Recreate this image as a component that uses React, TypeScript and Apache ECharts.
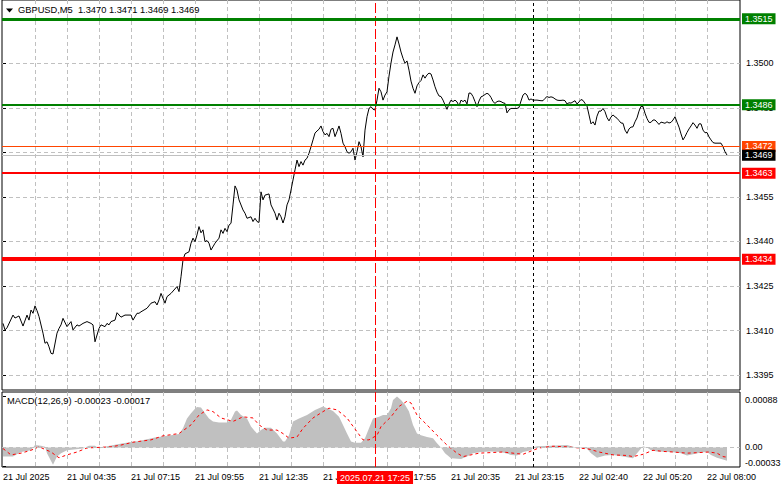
import React, { useEffect, useRef } from "react";
import * as echarts from "echarts";

// ---------- data ----------
const symbolName = "GBPUSD,M5";
const ohlc = [1.347, 1.3471, 1.3469, 1.3469];
const macdParams = [12, 26, 9];
const macdCurrent = [-0.00023, -0.00017];

const timeLabelBars = [0, 32, 64, 96, 128, 160, 192, 224, 256, 288, 320, 352];
const timeLabels = [
  "21 Jul 2025", "21 Jul 04:35", "21 Jul 07:15", "21 Jul 09:55", "21 Jul 12:35", "21 Jul 15:15",
  "21 Jul 17:55", "21 Jul 20:35", "21 Jul 23:15", "22 Jul 02:40", "22 Jul 05:20", "22 Jul 08:00",
];
const gridBars = [16, 32, 48, 64, 80, 96, 112, 128, 144, 160, 176, 192, 208, 224, 240, 256, 272, 288, 304, 320, 336, 352];
const priceTicks = [1.3395, 1.341, 1.3425, 1.344, 1.3455, 1.347, 1.3485, 1.35, 1.3515];
const priceLabels = [1.3395, 1.341, 1.3425, 1.344, 1.3455, 1.3485, 1.35];
const macdTicks = [-0.00033, 0, 0.00088];

const levelPrices = [1.3515, 1.3486, 1.3472, 1.3463, 1.3434];
const bidPrice = 1.3469;
const markerBar = 186;
const markerLabel = "2025.07.21 17:25";
const daySeparatorBar = 265;

// [bar index, close]
const closes: [number, number][] = [
  [0, 1.34124], [1, 1.34102], [2, 1.34109], [5, 1.34152], [6, 1.34142], [8, 1.34149], [10, 1.34115],
  [12, 1.34152], [13, 1.34135], [14, 1.34169], [15, 1.34158], [16, 1.34183], [17, 1.34167], [18, 1.34147],
  [20, 1.34091], [21, 1.34057], [22, 1.34062], [23, 1.34045], [24, 1.34023], [25, 1.34021], [27, 1.34091],
  [28, 1.34107], [29, 1.34119], [30, 1.34141], [32, 1.34113], [34, 1.3413], [35, 1.34102], [37, 1.34119],
  [38, 1.34115], [40, 1.34124], [42, 1.3413], [44, 1.34124], [45, 1.34119], [46, 1.34062], [48, 1.34107],
  [49, 1.34119], [51, 1.34113], [52, 1.34124], [53, 1.34119], [54, 1.3413], [56, 1.34135], [57, 1.3416],
  [59, 1.34145], [61, 1.34152], [64, 1.34152], [65, 1.34135], [67, 1.34158], [68, 1.34158], [69, 1.34163],
  [72, 1.34175], [74, 1.34192], [76, 1.34197], [77, 1.34186], [78, 1.34203], [79, 1.34225], [81, 1.34192],
  [82, 1.34214], [84, 1.34225], [87, 1.34248], [88, 1.34231], [89, 1.34281], [90, 1.34338], [91, 1.34358],
  [93, 1.34365], [94, 1.34394], [95, 1.34411], [96, 1.34399], [97, 1.34422], [98, 1.3445], [99, 1.34429],
  [100, 1.34439], [101, 1.34399], [102, 1.34403], [103, 1.34394], [104, 1.34371], [106, 1.34394],
  [108, 1.34411], [109, 1.34439], [110, 1.34427], [111, 1.34444], [112, 1.34433], [113, 1.34455],
  [114, 1.34461], [115, 1.34523], [116, 1.34587], [117, 1.34573], [118, 1.3454], [120, 1.34506],
  [121, 1.34495], [122, 1.34478], [124, 1.34483], [125, 1.34467], [126, 1.34478], [127, 1.34467],
  [128, 1.34464], [129, 1.34567], [130, 1.3454], [131, 1.34556], [133, 1.3456], [134, 1.34523],
  [136, 1.34495], [137, 1.34472], [138, 1.34495], [139, 1.34483], [140, 1.34462], [141, 1.34483],
  [142, 1.34523], [143, 1.3454], [144, 1.34573], [145, 1.34607], [146, 1.34641], [147, 1.34674],
  [148, 1.34652], [149, 1.34669], [150, 1.34657], [151, 1.34674], [152, 1.3468], [153, 1.34697],
  [154, 1.34719], [155, 1.34742], [156, 1.34765], [157, 1.34772], [158, 1.34778], [159, 1.34789],
  [160, 1.3477], [161, 1.34759], [162, 1.34764], [163, 1.34753], [164, 1.34778], [165, 1.34781],
  [166, 1.34753], [167, 1.3477], [168, 1.34789], [169, 1.34764], [170, 1.34731], [171, 1.34719],
  [172, 1.34702], [173, 1.34697], [174, 1.34702], [175, 1.34714], [176, 1.34674], [177, 1.34702],
  [178, 1.34736], [179, 1.34719], [180, 1.34685], [181, 1.34775], [182, 1.3482], [183, 1.34848],
  [184, 1.34854], [185, 1.34845], [186, 1.34843], [187, 1.34876], [188, 1.34916], [189, 1.34904],
  [190, 1.34876], [191, 1.34893], [192, 1.34904], [193, 1.34957], [194, 1.35001], [195, 1.35038],
  [196, 1.35062], [197, 1.35089], [198, 1.35065], [199, 1.35038], [200, 1.35017], [201, 1.35],
  [202, 1.35008], [203, 1.34977], [204, 1.3494], [205, 1.34916], [206, 1.34899], [207, 1.34924],
  [208, 1.34935], [209, 1.34942], [210, 1.34961], [211, 1.3495], [212, 1.34961], [213, 1.34967],
  [214, 1.34964], [215, 1.34944], [216, 1.34921], [217, 1.34903], [218, 1.3489], [219, 1.34888],
  [220, 1.34876], [221, 1.3486], [222, 1.34845], [223, 1.34863], [224, 1.34876], [225, 1.34871],
  [226, 1.34876], [227, 1.3487], [228, 1.34856], [229, 1.34876], [230, 1.34871], [231, 1.34876],
  [232, 1.34863], [233, 1.349], [234, 1.34899], [235, 1.34888], [236, 1.34871], [237, 1.34854],
  [238, 1.34873], [239, 1.34887], [240, 1.3489], [241, 1.34895], [242, 1.34899], [243, 1.34895],
  [244, 1.34885], [245, 1.34871], [246, 1.34865], [247, 1.34871], [248, 1.34873], [249, 1.34871],
  [250, 1.34867], [251, 1.34865], [252, 1.34833], [253, 1.34843], [254, 1.34848], [255, 1.34848],
  [256, 1.34848], [257, 1.34848], [258, 1.34851], [259, 1.34873], [260, 1.34893], [261, 1.34899],
  [262, 1.34893], [263, 1.34876], [264, 1.3488], [265, 1.34876], [266, 1.34876], [267, 1.34876],
  [268, 1.34875], [269, 1.34874], [270, 1.34874], [271, 1.34882], [272, 1.34888], [273, 1.34885],
  [274, 1.34887], [275, 1.34885], [276, 1.3488], [277, 1.34876], [278, 1.34875], [279, 1.34875],
  [280, 1.34876], [281, 1.34874], [282, 1.34863], [283, 1.34867], [284, 1.34866], [285, 1.3487],
  [286, 1.34874], [287, 1.34863], [288, 1.3487], [289, 1.34878], [290, 1.34875], [291, 1.34865],
  [292, 1.34856], [293, 1.34826], [294, 1.34796], [295, 1.34803], [296, 1.34792], [297, 1.34822],
  [298, 1.34839], [299, 1.34839], [300, 1.34848], [301, 1.34837], [302, 1.34817], [303, 1.34806],
  [304, 1.34819], [305, 1.34826], [306, 1.3482], [307, 1.34815], [308, 1.34807], [309, 1.34799],
  [310, 1.34798], [311, 1.34775], [312, 1.34764], [313, 1.34779], [314, 1.34785], [315, 1.34786],
  [316, 1.34803], [317, 1.34816], [318, 1.34839], [319, 1.34855], [320, 1.34854], [321, 1.34832],
  [322, 1.34814], [323, 1.34801], [324, 1.34801], [325, 1.34809], [326, 1.34809], [327, 1.34802],
  [328, 1.34794], [329, 1.34802], [330, 1.348], [331, 1.34798], [332, 1.34803], [333, 1.34799],
  [334, 1.34801], [335, 1.34809], [336, 1.3482], [337, 1.34802], [338, 1.34785], [339, 1.34762],
  [340, 1.34742], [341, 1.34753], [342, 1.34767], [343, 1.34779], [344, 1.34789], [345, 1.348],
  [346, 1.34792], [347, 1.34781], [348, 1.34796], [349, 1.34796], [350, 1.34775], [351, 1.34766],
  [352, 1.34767], [353, 1.34752], [354, 1.34742], [355, 1.34733], [356, 1.34731], [357, 1.34731],
  [358, 1.34731], [359, 1.34731], [360, 1.34719], [361, 1.34702], [362, 1.34691],
];

// [bar index, MACD histogram]
const macdHist: [number, number][] = [
  [0, -0.00016], [5, -0.00016], [9, -0.00008], [14, -0.00005], [16, 0.00004], [19, 0.00003], [21, 0.00001],
  [22, -0.0001], [25, -0.0003], [27, -0.00016], [29, -0.0001], [32, -0.00005], [40, -0.00002], [43, 0.00003],
  [46, 0.00003], [48, -0.00002], [52, 0.00002], [60, 0.00007], [68, 0.00011], [76, 0.00017], [84, 0.00021],
  [88, 0.00023], [90, 0.00033], [92, 0.0005], [94, 0.00059], [96, 0.00067], [97, 0.0007], [99, 0.00069],
  [101, 0.00059], [103, 0.0005], [105, 0.00045], [108, 0.00043], [112, 0.00043], [114, 0.00048],
  [116, 0.00062], [117, 0.00064], [119, 0.00056], [122, 0.0005], [124, 0.00036], [127, 0.00024],
  [129, 0.0003], [131, 0.00034], [134, 0.00034], [137, 0.00024], [140, 0.0001], [141, 0.0001],
  [143, 0.00021], [145, 0.00045], [148, 0.0005], [152, 0.00056], [156, 0.00065], [160, 0.00071],
  [162, 0.00068], [165, 0.00063], [168, 0.00053], [170, 0.00039], [172, 0.00024], [174, 0.0001],
  [176, 0.00008], [179, 0.00008], [181, 0.00016], [183, 0.00033], [185, 0.0005], [188, 0.00053],
  [190, 0.00056], [192, 0.00056], [194, 0.00068], [195, 0.00082], [197, 0.00088], [199, 0.00082],
  [201, 0.00074], [203, 0.00062], [205, 0.00039], [207, 0.00024], [209, 0.00021], [212, 0.00018],
  [215, 0.00016], [217, 0.00007], [219, 0], [221, -0.0001], [224, -0.00019], [229, -0.0002],
  [232, -0.00016], [235, -0.0001], [239, -0.00008], [244, -0.00007], [249, -0.00008], [254, -0.00013],
  [257, -0.00014], [260, -0.00008], [264, -0.00005], [265, 0], [267, 0.00002], [274, 0.00003],
  [282, 0.00004], [285, 0.00001], [289, -0.00001], [292, -0.00002], [294, -0.0001], [297, -0.00018],
  [301, -0.00014], [305, -0.00013], [310, -0.00016], [315, -0.00019], [317, -0.0001], [319, -0.00002],
  [320, 0.00002], [322, 0], [324, -0.00005], [327, -0.00007], [334, -0.00008], [339, -0.0001],
  [342, -0.00014], [345, -0.00012], [349, -0.00009], [352, -0.00008], [354, -0.00013], [357, -0.00018],
  [360, -0.00021], [362, -0.00023],
];

// [bar index, MACD signal]
const macdSignal: [number, number][] = [
  [0, -0.00002], [4, -0.00013], [9, -0.0001], [14, -0.00005], [18, 0.00001], [24, -0.00008], [28, -0.00018],
  [32, -0.00013], [37, -0.00008], [42, -0.00001], [48, 0], [54, 0.00001], [59, 0.00004], [65, 0.00009],
  [74, 0.00013], [80, 0.0002], [88, 0.00024], [94, 0.00039], [98, 0.00056], [102, 0.00065], [105, 0.00062],
  [109, 0.00051], [115, 0.00045], [120, 0.00053], [125, 0.00051], [128, 0.00039], [132, 0.0003],
  [137, 0.0003], [140, 0.00024], [143, 0.00016], [147, 0.00018], [150, 0.00033], [155, 0.00051],
  [160, 0.00062], [163, 0.00068], [167, 0.00065], [172, 0.00051], [177, 0.00027], [180, 0.00013],
  [183, 0.00013], [187, 0.00021], [189, 0.00036], [194, 0.00053], [198, 0.00071], [202, 0.0008],
  [204, 0.00077], [207, 0.00056], [212, 0.00039], [217, 0.00021], [222, 0.00004], [227, -0.0001],
  [230, -0.00016], [234, -0.00013], [238, -0.0001], [244, -0.00009], [250, -0.00008], [255, -0.0001],
  [260, -0.00012], [265, -0.00005], [268, -0.00001], [275, 0.00002], [282, 0.00001], [288, -0.00001],
  [293, -0.00003], [298, -0.00008], [305, -0.00013], [312, -0.00014], [315, -0.00016], [320, -0.00012],
  [325, -0.00005], [330, -0.00007], [335, -0.00008], [342, -0.0001], [348, -0.00009], [353, -0.00008],
  [357, -0.0001], [360, -0.00016], [362, -0.00017],
];

// ---------- styles ----------
const FONT = '"Liberation Sans", Arial, sans-serif';
const levelStyles = [
  { color: "#008000", width: 3 },
  { color: "#008000", width: 2 },
  { color: "#ff4500", width: 1 },
  { color: "#ff0000", width: 2 },
  { color: "#ff0000", width: 4 },
];
const gridLine = { color: "#c0c0c0", type: [4, 3] as number[], width: 1 };

function boxLabel(text: string, bg: string) {
  return {
    show: true,
    position: "end",
    distance: 2,
    formatter: text,
    color: "#ffffff",
    backgroundColor: bg,
    padding: [1, 3, 0, 3],
    fontSize: 9,
    lineHeight: 10,
    fontFamily: FONT,
  };
}

function buildOption() {
  const levelLines = levelPrices.map((p, k) => ({
    yAxis: p,
    lineStyle: { color: levelStyles[k].color, width: levelStyles[k].width, type: "solid" },
    label: boxLabel(p.toFixed(4), levelStyles[k].color),
  }));
  const bidLine = {
    yAxis: bidPrice,
    lineStyle: { color: "#c0c0c0", width: 1, type: "solid" },
    label: boxLabel(bidPrice.toFixed(4), "#000000"),
  };
  const redMarkerMain = {
    xAxis: markerBar,
    lineStyle: { color: "#ff0000", width: 1, type: [10, 3] },
    label: { show: false },
  };
  const daySepLine = {
    xAxis: daySeparatorBar,
    lineStyle: { color: "#000000", width: 1, type: [3, 3] },
    label: { show: false },
  };
  const redMarkerMacd = {
    xAxis: markerBar,
    lineStyle: { color: "#ff0000", width: 1, type: [10, 3] },
    label: {
      show: true,
      position: "start",
      distance: 4,
      formatter: markerLabel,
      color: "#ffffff",
      backgroundColor: "#ff0000",
      padding: [2, 3, 1, 3],
      fontSize: 9,
      lineHeight: 10,
      fontFamily: FONT,
    },
  };
  const zeroLine = {
    yAxis: 0,
    lineStyle: { ...gridLine },
    label: { show: false },
  };

  const labelText = { fontSize: 9, color: "#000000", fontFamily: FONT };

  return {
    animation: false,
    backgroundColor: "#ffffff",
    textStyle: { fontFamily: FONT },
    title: [
      {
        text: `${symbolName}  ${ohlc.map((v) => v.toFixed(4)).join(" ")}`,
        left: 18,
        top: 4.5,
        padding: 0,
        textStyle: { fontSize: 9.3, fontWeight: "normal", color: "#000000", fontFamily: FONT, lineHeight: 11 },
      },
      {
        text: `MACD(${macdParams.join(",")}) ${macdCurrent.map((v) => v.toFixed(5)).join(" ")}`,
        left: 7,
        top: 395.5,
        padding: 0,
        textStyle: { fontSize: 9.3, fontWeight: "normal", color: "#000000", fontFamily: FONT, lineHeight: 11 },
      },
    ],
    graphic: [
      {
        type: "polygon",
        shape: { points: [[6, 8.5], [13, 8.5], [9.5, 12.5]] },
        style: { fill: "#000000" },
        silent: true,
      },
    ],
    grid: [
      { left: 2, top: 0, width: 738, height: 390, show: true, borderColor: "#000000", borderWidth: 1, backgroundColor: "transparent", outerBoundsMode: "none" },
      { left: 2, top: 392, width: 738, height: 75, show: true, borderColor: "#000000", borderWidth: 1, backgroundColor: "transparent", outerBoundsMode: "none" },
    ],
    xAxis: [
      {
        type: "value",
        gridIndex: 0,
        min: -0.5,
        max: 368.5,
        axisLine: { show: false },
        axisTick: { show: false, customValues: gridBars },
        axisLabel: { show: false },
        splitLine: { show: true, lineStyle: gridLine },
      },
      {
        type: "value",
        gridIndex: 1,
        min: -0.5,
        max: 368.5,
        axisLine: { show: false },
        axisTick: { show: false, customValues: gridBars },
        axisLabel: {
          show: true,
          customValues: timeLabelBars,
          formatter: (v: number) => {
            const k = timeLabelBars.indexOf(Math.round(v));
            return k >= 0 ? timeLabels[k] : "";
          },
          align: "left",
          margin: 5,
          ...labelText,
        },
        splitLine: { show: true, lineStyle: gridLine },
      },
    ],
    yAxis: [
      {
        type: "value",
        gridIndex: 0,
        position: "right",
        min: 1.338996,
        max: 1.352132,
        axisLine: { show: false },
        axisTick: { show: true, customValues: priceTicks, length: 3, lineStyle: { color: "#000000" } },
        axisLabel: {
          show: true,
          customValues: priceLabels,
          formatter: (v: number) => v.toFixed(4),
          margin: 6,
          ...labelText,
        },
        splitLine: { show: true, lineStyle: gridLine },
      },
      {
        type: "value",
        gridIndex: 1,
        position: "right",
        min: -0.00034,
        max: 0.00096,
        axisLine: { show: false },
        axisTick: { show: true, customValues: macdTicks, length: 3, lineStyle: { color: "#000000" } },
        axisLabel: {
          show: true,
          customValues: macdTicks,
          margin: 5,
          formatter: (v: number) =>
            v > 0.0005 ? `{t|${v.toFixed(5)}}` : v < -0.0001 ? `{b|${v.toFixed(5)}}` : `{m|0.00}`,
          rich: {
            t: { ...labelText, padding: [7, 0, 0, 0] },
            b: { ...labelText, padding: [0, 0, 7, 0] },
            m: { ...labelText },
          },
          ...labelText,
        },
        splitLine: { show: false },
      },
    ],
    series: [
      {
        type: "line",
        name: "hist",
        xAxisIndex: 1,
        yAxisIndex: 1,
        data: macdHist,
        symbol: "none",
        showSymbol: false,
        lineStyle: { width: 0, opacity: 0 },
        areaStyle: { color: "#c0c0c0", opacity: 1 },
        silent: true,
        z: 2,
        markLine: {
          silent: true,
          symbol: "none",
          precision: 6,
          animation: false,
          data: [zeroLine, daySepLine, redMarkerMacd],
        },
      },
      {
        type: "line",
        name: "signal",
        xAxisIndex: 1,
        yAxisIndex: 1,
        data: macdSignal,
        symbol: "none",
        showSymbol: false,
        lineStyle: { color: "#ff0000", width: 1, type: [3, 3] },
        silent: true,
        z: 3,
      },
      {
        type: "line",
        name: symbolName,
        xAxisIndex: 0,
        yAxisIndex: 0,
        data: closes,
        symbol: "none",
        showSymbol: false,
        lineStyle: { color: "#000000", width: 1 },
        silent: true,
        z: 3,
        markLine: {
          silent: true,
          symbol: "none",
          precision: 6,
          animation: false,
          data: [daySepLine, redMarkerMain, ...levelLines, bidLine],
        },
      },
    ],
  };
}

export default function App() {
  const ref = useRef<HTMLDivElement>(null);
  useEffect(() => {
    if (!ref.current) return;
    const chart = echarts.init(ref.current, null, { renderer: "svg", width: 781, height: 489 });
    chart.setOption(buildOption() as any);
    return () => chart.dispose();
  }, []);
  return (
    <div
      ref={ref}
      style={{ position: "absolute", left: 0, top: 0, width: 781, height: 489, background: "#ffffff" }}
    />
  );
}
